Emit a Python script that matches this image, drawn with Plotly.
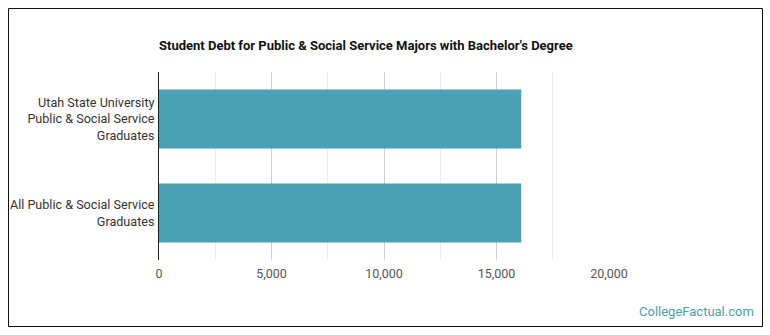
import plotly.graph_objects as go

categories = ["Utah State University<br>Public & Social Service<br>Graduates",
              "All Public & Social Service<br>Graduates"]
values = [16100, 16100]
tick_vals = [0, 5000, 10000, 15000, 20000]
tick_text = ["0", "5,000", "10,000", "15,000", "20,000"]

W, H = 770, 335
L, R, T, B = 159, 161, 72, 75
pw, ph = W - L - R, H - T - B

def px(x):
    return (x - L) / pw

def py(y):
    return 1 - (y - T) / ph

fig = go.Figure(go.Bar(
    x=values, y=categories, orientation="h",
    marker=dict(color="#4aa0b5", line=dict(width=0)),
    width=0.63, hoverinfo="x+y",
))

fig.update_layout(
    width=W, height=H,
    margin=dict(l=L, r=R, t=T, b=B, autoexpand=False),
    paper_bgcolor="white", plot_bgcolor="white",
    font=dict(family="Roboto", size=13, color="#333"),
    showlegend=False,
    title=dict(text="<b>Student Debt for Public & Social Service Majors with Bachelor's Degree</b>",
               x=px(159), xanchor="left", xref="paper",
               y=1 - 45 / H, yanchor="middle",
               font=dict(family="Roboto", size=13, color="#111")),
    xaxis=dict(range=[0, 20000], tickvals=tick_vals, ticktext=tick_text,
               showgrid=True, gridcolor="#cfcfcf", gridwidth=1,
               minor=dict(dtick=2500, showgrid=True, gridcolor="#ececec", gridwidth=1),
               zeroline=False, showline=False, ticks="", ticklabelstandoff=4,
               tickfont=dict(size=12.5, color="#555"), fixedrange=True),
    yaxis=dict(autorange="reversed", showline=True, linecolor="#222", linewidth=1,
               showgrid=False, zeroline=False, ticks="", ticklabelstandoff=1,
               tickfont=dict(size=12.6, color="#333"), fixedrange=True),
    bargap=0.37,
    shapes=[dict(type="rect", xref="paper", yref="paper",
                 x0=px(8.5), x1=px(762.5), y0=py(326.5), y1=py(8.5),
                 line=dict(color="#111", width=1), fillcolor="rgba(0,0,0,0)", layer="above")],
    annotations=[dict(text="CollegeFactual.com", xref="paper", yref="paper",
                      x=px(756), y=py(311), xanchor="right", yanchor="middle",
                      showarrow=False, font=dict(family="Roboto", size=13, color="#4a9fb5"))],
)

fig.write_html("out.html")
